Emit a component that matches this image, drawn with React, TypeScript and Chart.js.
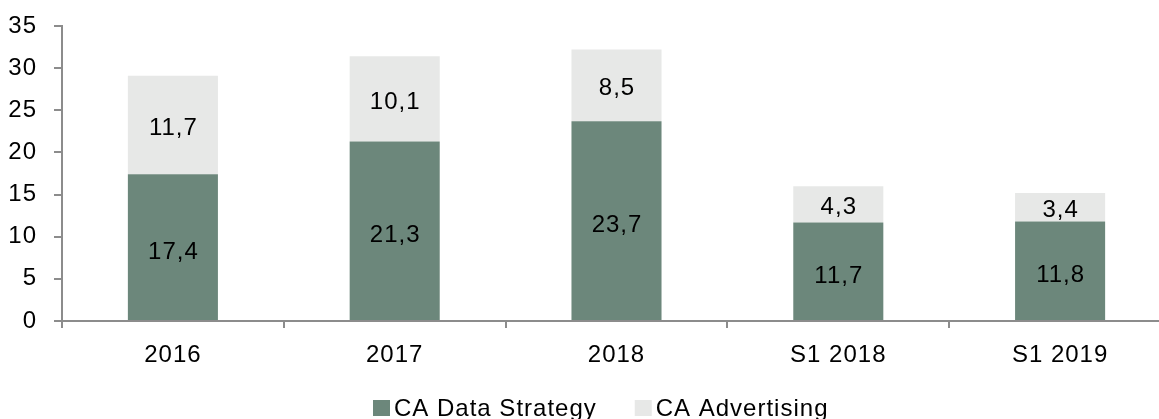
import React, { useEffect, useRef } from "react";
import { Chart, registerables } from "chart.js";

Chart.register(...registerables);

const categories = ["2016", "2017", "2018", "S1 2018", "S1 2019"];
const dataStrategy = [17.4, 21.3, 23.7, 11.7, 11.8];
const advertising = [11.7, 10.1, 8.5, 4.3, 3.4];
const seriesLabels = ["CA Data Strategy", "CA Advertising"];
const yTicks = [0, 5, 10, 15, 20, 25, 30, 35];

const COLOR_DARK = "#6c877b";
const COLOR_LIGHT = "#e7e8e7";
const AXIS_COLOR = "#8c8c8c";
const FONT_FAMILY = "'Liberation Sans', Arial, sans-serif";
const FONT_SIZE = 24;

const fmt = (v: number) => v.toFixed(1).replace(".", ",");

const spacingPlugin = {
  id: "spacing",
  beforeDraw(chart: any) {
    const ctx = chart.ctx as any;
    ctx.letterSpacing = "1px";
  },
};

const valueLabels = {
  id: "valueLabels",
  afterDatasetsDraw(chart: any) {
    const ctx = chart.ctx as any;
    ctx.save();
    ctx.letterSpacing = "1px";
    ctx.font = `${FONT_SIZE}px ${FONT_FAMILY}`;
    ctx.fillStyle = "#000";
    ctx.textAlign = "center";
    ctx.textBaseline = "middle";
    chart.data.datasets.forEach((ds: any, di: number) => {
      const meta = chart.getDatasetMeta(di);
      meta.data.forEach((bar: any, i: number) => {
        const v = ds.data[i];
        const y = (bar.y + bar.base) / 2 + (di === 0 ? 5 : 3);
        ctx.fillText(fmt(v), bar.x + 0.5, y);
      });
    });
    ctx.restore();
  },
};

const customLegend = {
  id: "customLegend",
  afterDraw(chart: any) {
    const ctx = chart.ctx as any;
    ctx.save();
    ctx.letterSpacing = "1px";
    ctx.font = `${FONT_SIZE}px ${FONT_FAMILY}`;
    ctx.fillStyle = "#000";
    ctx.textAlign = "left";
    ctx.textBaseline = "alphabetic";
    const baseline = 416;
    const box = 16;
    let x = 373;
    chart.data.datasets.forEach((ds: any) => {
      ctx.fillStyle = ds.backgroundColor;
      ctx.fillRect(x, baseline - box, box + 1, box);
      x += box + 1 + 4;
      ctx.fillStyle = "#000";
      ctx.fillText(ds.label, x, baseline);
      x += ctx.measureText(ds.label).width + 38;
    });
    ctx.restore();
  },
};

export default function App() {
  const ref = useRef<HTMLCanvasElement | null>(null);
  useEffect(() => {
    if (!ref.current) return;
    const chart = new Chart(ref.current, {
      type: "bar",
      data: {
        labels: categories,
        datasets: [
          {
            label: seriesLabels[0],
            data: dataStrategy,
            backgroundColor: COLOR_DARK,
            borderWidth: 0,
            categoryPercentage: 1,
            barPercentage: 0.406,
          },
          {
            label: seriesLabels[1],
            data: advertising,
            backgroundColor: COLOR_LIGHT,
            borderWidth: 0,
            categoryPercentage: 1,
            barPercentage: 0.406,
          },
        ],
      },
      options: {
        responsive: false,
        animation: false,
        layout: { padding: { left: 0, right: 0, top: 26, bottom: 48 } },
        plugins: {
          legend: { display: false },
          tooltip: { enabled: false },
        },
        scales: {
          x: {
            stacked: true,
            offset: true,
            border: { display: true, color: AXIS_COLOR, width: 2 },
            grid: {
              display: true,
              offset: true,
              drawOnChartArea: false,
              drawTicks: true,
              tickLength: 7,
              color: AXIS_COLOR,
              lineWidth: 2,
            },
            ticks: {
              color: "#000",
              padding: 13,
              font: { family: FONT_FAMILY, size: FONT_SIZE },
              maxRotation: 0,
              autoSkip: false,
            },
            afterFit: (scale: any) => {
              scale.height = 50;
            },
          },
          y: {
            stacked: true,
            min: 0,
            max: 35,
            afterBuildTicks: (scale: any) => {
              scale.ticks = yTicks.map((v) => ({ value: v }));
            },
            border: { display: true, color: AXIS_COLOR, width: 2 },
            grid: {
              display: true,
              drawOnChartArea: false,
              drawTicks: true,
              tickLength: 8,
              color: AXIS_COLOR,
              lineWidth: 2,
            },
            ticks: {
              color: "#000",
              padding: 17,
              font: { family: FONT_FAMILY, size: FONT_SIZE },
            },
            afterFit: (scale: any) => {
              scale.width = 62;
              scale.paddingTop = 0;
              scale.paddingBottom = 0;
            },
          },
        },
      },
      plugins: [spacingPlugin, valueLabels, customLegend],
    } as any);
    return () => chart.destroy();
  }, []);
  return (
    <div
      style={{
        position: "absolute",
        left: 0,
        top: 0,
        width: 1159,
        height: 419,
        overflow: "hidden",
        background: "#fff",
      }}
    >
      <canvas ref={ref} width={1171} height={419} style={{ display: "block" }} />
    </div>
  );
}
